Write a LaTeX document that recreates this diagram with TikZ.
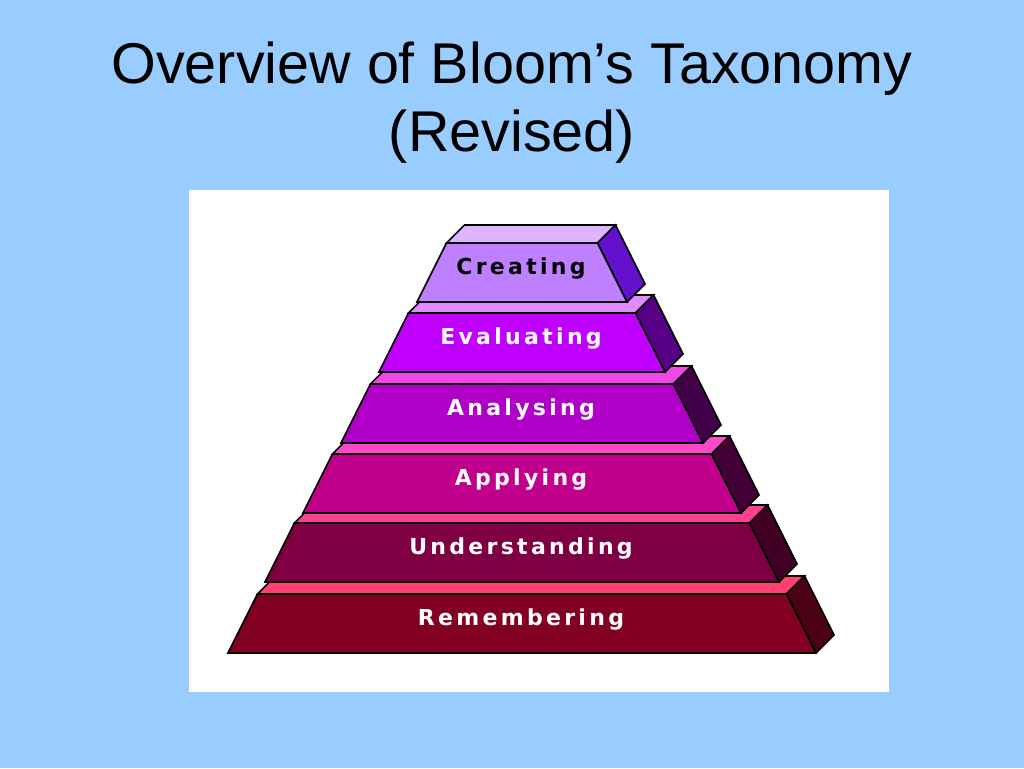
\documentclass[tikz,border=0pt]{standalone}
\usepackage{fontspec}
\setmainfont{Liberation Sans}
\newfontfamily\pixfont[LetterSpace=15]{DejaVu Sans Bold}
\usetikzlibrary{calc}
\definecolor{bgblue}{HTML}{99CCFF}
\definecolor{crF}{HTML}{BF80FF}\definecolor{crS}{HTML}{DDB4FF}\definecolor{crD}{HTML}{6410CC}
\definecolor{evF}{HTML}{C000FF}\definecolor{evS}{HTML}{E08CFF}\definecolor{evD}{HTML}{560088}
\definecolor{anF}{HTML}{B000C8}\definecolor{anS}{HTML}{F048E8}\definecolor{anD}{HTML}{42004A}
\definecolor{apF}{HTML}{C0008C}\definecolor{apS}{HTML}{FF48C8}\definecolor{apD}{HTML}{420034}
\definecolor{unF}{HTML}{7E0042}\definecolor{unS}{HTML}{FF4090}\definecolor{unD}{HTML}{420024}
\definecolor{reF}{HTML}{820022}\definecolor{reS}{HTML}{FF4070}\definecolor{reD}{HTML}{4C0014}
\tikzset{
  edge/.style={draw=black, line width=1.6pt, line join=miter},
  lvltext/.style={font=\pixfont\fontsize{22}{24}\selectfont, inner sep=0pt, anchor=center},
  titletext/.style={font=\fontsize{57.5}{67}\selectfont, anchor=base, inner sep=0pt}
}
\newcommand\pyrlayer[8]{%
  \pgfmathsetmacro\bl{522-#2}\pgfmathsetmacro\br{522+#2}%
  \pgfmathsetmacro\tl{522-#2+29.5}\pgfmathsetmacro\tr{522+#2-29.5}%
  \pgfmathsetmacro\ty{#1-59}%
  \pgfmathsetmacro\my{#1-33}%
  \draw[edge, fill=#4] (\tl,\ty) -- (\tr,\ty) -- ($(\tr,\ty)+(18,-18)$) -- ($(\tl,\ty)+(18,-18)$) -- cycle;
  \draw[edge, fill=#5] (\tr,\ty) -- ($(\tr,\ty)+(18,-18)$) -- ($(\br,#1)+(18,-18)$) -- (\br,#1) -- cycle;
  \draw[edge, fill=#3] (\bl,#1) -- (\br,#1) -- (\tr,\ty) -- (\tl,\ty) -- cycle;
  \node[lvltext, text=#7] (#8) at (521,\my) {#6};
}
\begin{document}
\begin{tikzpicture}[x=1pt, y=-1pt]
\fill[bgblue] (0,0) rectangle (1024,768);
\useasboundingbox (0,0) rectangle (1024,768);
\node[titletext] (title1) at (512,83) {Overview of Bloom’s Taxonomy};
\node[titletext] (title2) at (512,151) {(Revised)};
\fill[white] (189,190) rectangle (889,692);
\pyrlayer{653}{294}{reF}{reS}{reD}{Remembering}{white}{remembering}
\pyrlayer{582}{257}{unF}{unS}{unD}{Understanding}{white}{understanding}
\pyrlayer{513}{219}{apF}{apS}{apD}{Applying}{white}{applying}
\pyrlayer{443}{181}{anF}{anS}{anD}{Analysing}{white}{analysing}
\pyrlayer{372}{143}{evF}{evS}{evD}{Evaluating}{white}{evaluating}
\pyrlayer{302}{105}{crF}{crS}{crD}{Creating}{black}{creating}
\end{tikzpicture}
\end{document}
